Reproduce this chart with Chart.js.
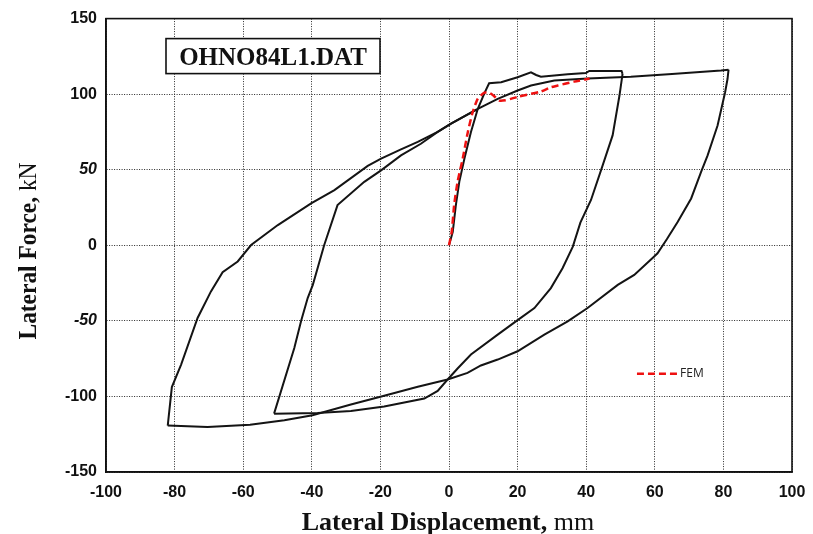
<!DOCTYPE html>
<html>
<head>
<meta charset="utf-8">
<script src="https://cdn.jsdelivr.net/npm/chart.js@4.4.0/dist/chart.umd.min.js"></script>
<style>
  html, body { margin: 0; padding: 0; background: #fff; }
  #wrap { width: 813px; height: 534px; }
</style>
</head>
<body>
<div id="wrap"><canvas id="hysteresis" width="813" height="534"></canvas></div>
<script>
// Ensayo cíclico: [desplazamiento lateral (mm), fuerza lateral (kN)]
const cargaInicial = [
  [0, 0], [1.1, 9], [2.0, 26.6], [3.0, 42], [4.5, 57.4], [6.4, 75], [8.4, 90.3],
  [10.4, 101], [11.7, 107.2], [15.2, 107.9], [20, 111.2], [23.9, 114.5], [25.4, 112.7],
  [26.8, 111.6], [34.6, 113.2], [39.9, 114], [40.9, 115.4], [50.3, 115.4], [50.6, 113.4]
];
const descarga1 = [
  [50.6, 113.4], [49.7, 99.1], [47.7, 72.7], [44.8, 52.9], [41.4, 30], [38.3, 15],
  [36.1, -0.9], [33.1, -15.2], [29.7, -28.3], [24.9, -41.5], [19.5, -50.3], [14.2, -59.1],
  [6.4, -72.3], [2.5, -81.5], [-0.4, -88.8], [-3.3, -96.4], [-7.2, -101.4], [-18.9, -106.6],
  [-28.6, -109.7], [-38.3, -110.9], [-51, -111.4]
];
const recarga1 = [
  [-51, -111.4], [-45.1, -67.9], [-43.1, -49.9], [-41.2, -34.9], [-39.7, -26.2], [-36.4, 0],
  [-32.5, 26.6], [-24.7, 42], [-19.8, 49.6], [-14, 59.5], [-8.2, 67.2], [-3.3, 75],
  [0.6, 80.5], [8.4, 90.3], [14.2, 96.9], [20, 102.4], [23.9, 105.7], [30.7, 109],
  [40.4, 110.3], [53, 111.5], [65, 113.3], [79.3, 115.6], [81.5, 116.2]
];
const descarga2 = [
  [81.5, 116.2], [81.2, 110], [80.5, 101.3], [78.3, 79.3], [75.4, 59.5], [73.5, 48.6],
  [70.6, 31], [66.7, 15.6], [63.5, 4], [60.8, -5.3], [59.9, -7.2], [54, -19.6], [49.2, -26.2],
  [40.4, -41.5], [34.6, -50.3], [27.8, -59.1], [20, -70.1], [14.2, -75.6], [9.3, -79.5],
  [5.4, -84.4], [-0.4, -88.8], [-9.1, -93.6], [-18.9, -99.5], [-28.6, -105.3], [-39.8, -112.5],
  [-48, -115.8], [-58, -118.8], [-70.4, -120.2], [-82, -119.3]
];
const recarga2 = [
  [-82, -119.3], [-80.8, -93.8], [-78.1, -78.9], [-73.3, -48.1], [-69.4, -30.5], [-66, -17.8],
  [-61.6, -10.7], [-57.7, 0.2], [-49.9, 13.4], [-40.2, 27.7], [-33.4, 36.5], [-23.7, 52.5],
  [-19.8, 57.4], [-14, 63.5], [-9.1, 68.4], [-3.3, 75], [0.6, 80.5], [8, 89.8]
];
// Modelo de elementos finitos (envolvente monotónica)
const curvaFEM = [
  [0, 0], [0.8, 9], [1.5, 26.6], [2.5, 42], [4, 57.4], [5.5, 75], [6.9, 88.1], [8.4, 97],
  [10.3, 101], [11.8, 100.9], [13, 99], [14.7, 95.8], [16.5, 96], [18, 96.9], [20, 98.2],
  [26.8, 101.8], [29.7, 104.6], [31.7, 105.7], [36.5, 108.3], [41, 110.3]
];

const ticksX = [-100, -80, -60, -40, -20, 0, 20, 40, 60, 80, 100];
const ticksY = [-150, -100, -50, 0, 50, 100, 150];

const aPuntos = arr => arr.map(p => ({ x: p[0], y: p[1] }));

const tramoEnsayo = (nombre, datos) => ({
  label: nombre,
  data: aPuntos(datos),
  showLine: true,
  borderColor: '#141414',
  borderWidth: 2,
  pointRadius: 0,
  tension: 0,
  fill: false
});

// Fondo blanco, marco, caja con el nombre del ensayo, leyenda y títulos de ejes
const decoracion = {
  id: 'decoracion',
  beforeDraw(chart) {
    const ctx = chart.ctx;
    ctx.save();
    ctx.fillStyle = '#fff';
    ctx.fillRect(0, 0, chart.width, chart.height);
    ctx.restore();
  },
  afterDraw(chart) {
    const { ctx, chartArea: a, scales } = chart;
    ctx.save();

    // marco completo del área de trazado
    ctx.strokeStyle = '#111';
    ctx.lineWidth = 1.6;
    ctx.strokeRect(a.left, a.top, a.right - a.left, a.bottom - a.top);

    // caja del archivo de datos
    const bx = a.left + 60, by = a.top + 20, bw = 214, bh = 35;
    ctx.fillStyle = '#fff';
    ctx.fillRect(bx, by, bw, bh);
    ctx.lineWidth = 1.6;
    ctx.strokeRect(bx, by, bw, bh);
    ctx.fillStyle = '#111';
    ctx.font = 'bold 25px "Liberation Serif"';
    ctx.textAlign = 'center';
    ctx.textBaseline = 'alphabetic';
    ctx.fillText('OHNO84L1.DAT', bx + bw / 2, by + 26);

    // leyenda FEM
    const ly = scales.y.getPixelForValue(-85);
    const lx0 = scales.x.getPixelForValue(54.8);
    const lx1 = scales.x.getPixelForValue(66.8);
    ctx.strokeStyle = '#ee1111';
    ctx.lineWidth = 2.5;
    ctx.setLineDash([7, 4]);
    ctx.beginPath();
    ctx.moveTo(lx0, ly);
    ctx.lineTo(lx1, ly);
    ctx.stroke();
    ctx.setLineDash([]);
    ctx.fillStyle = '#222';
    ctx.font = '12px "Open Sans"';
    ctx.textAlign = 'left';
    ctx.textBaseline = 'middle';
    ctx.fillText('FEM', lx1 + 2, ly);

    // títulos de los ejes: parte en negrita y unidad normal
    const negrita = 'bold 26px "Liberation Serif"';
    const normal = '26px "Liberation Serif"';
    const tituloMixto = (t1, t2, cx, base) => {
      ctx.font = negrita;
      const w1 = ctx.measureText(t1).width;
      ctx.font = normal;
      const w2 = ctx.measureText(t2).width;
      const x0 = cx - (w1 + w2) / 2;
      ctx.textAlign = 'left';
      ctx.textBaseline = 'alphabetic';
      ctx.fillStyle = '#111';
      ctx.font = negrita;
      ctx.fillText(t1, x0, base);
      ctx.font = normal;
      ctx.fillText(t2, x0 + w1, base);
    };
    tituloMixto('Lateral Displacement, ', 'mm', 448, 530);

    ctx.translate(36, 251);
    ctx.rotate(-Math.PI / 2);
    ctx.scale(0.9, 1);
    tituloMixto('Lateral Force, ', 'kN', 0, 0);

    ctx.restore();
  }
};

const fuenteTicks = ctx => ({
  family: '"Liberation Sans", Arial, sans-serif',
  size: 16,
  weight: 'bold',
  style: (ctx.tick && Math.abs(ctx.tick.value) === 50) ? 'italic' : 'normal'
});

new Chart(document.getElementById('hysteresis'), {
  type: 'scatter',
  data: {
    datasets: [
      {
        label: 'FEM',
        data: aPuntos(curvaFEM),
        showLine: true,
        borderColor: '#ee1111',
        borderWidth: 2.5,
        borderDash: [7, 4],
        pointRadius: 0,
        tension: 0.2,
        fill: false
      },
      tramoEnsayo('Carga inicial', cargaInicial),
      tramoEnsayo('Descarga 1', descarga1),
      tramoEnsayo('Recarga 1', recarga1),
      tramoEnsayo('Descarga 2', descarga2),
      tramoEnsayo('Recarga 2', recarga2)
    ]
  },
  options: {
    responsive: false,
    animation: false,
    devicePixelRatio: 1,
    layout: { padding: { top: 17, right: 21, left: 0, bottom: 0 } },
    plugins: {
      legend: { display: false },
      tooltip: { enabled: false }
    },
    scales: {
      x: {
        type: 'linear',
        min: -100,
        max: 100,
        afterBuildTicks: s => { s.ticks = ticksX.map(v => ({ value: v })); },
        afterFit: s => {
          s.height = 62;
          // el último rótulo cabe en el margen del lienzo
          s.paddingRight = 0;
          s.paddingLeft = 0;
        },
        grid: {
          color: '#2a2a2a',
          lineWidth: 1,
          drawTicks: false
        },
        border: { display: true, color: '#111', width: 1.6, dash: [1, 1.5] },
        ticks: {
          color: '#111',
          padding: 11,
          maxRotation: 0,
          font: fuenteTicks
        }
      },
      y: {
        type: 'linear',
        min: -150,
        max: 150,
        afterBuildTicks: s => { s.ticks = ticksY.map(v => ({ value: v })); },
        afterFit: s => { s.width = 106; },
        grid: {
          color: '#2a2a2a',
          lineWidth: 1,
          drawTicks: false
        },
        border: { display: true, color: '#111', width: 1.6, dash: [1, 1.5] },
        ticks: {
          color: '#111',
          padding: 9,
          font: fuenteTicks
        }
      }
    }
  },
  plugins: [decoracion]
});
</script>
</body>
</html>
